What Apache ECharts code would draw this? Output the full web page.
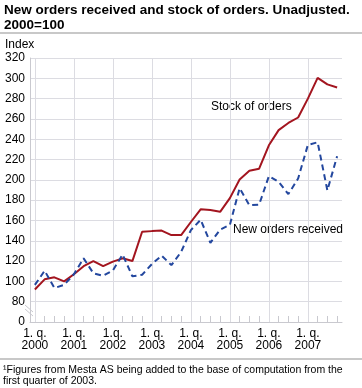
<!DOCTYPE html>
<html>
<head>
<meta charset="utf-8">
<script src="https://cdn.jsdelivr.net/npm/echarts@6/dist/echarts.min.js"></script>
<style>
html,body{margin:0;padding:0;background:#fff;}
#c{width:362px;height:388px;}
</style>
</head>
<body>
<div id="c"></div>
<script>
// Quarters 2000 Q1 .. 2007 Q4
var quarters = [];
var years = ["2000","2001","2002","2003","2004","2005","2006","2007"];
years.forEach(function(y){ for (var q=1;q<=4;q++) quarters.push(y+"Q"+q); });

var yearLabels = ["1. q.\n2000","1. q.\n2001","1.q.\n2002","1. q.\n2003","1. q.\n2004","1. q.\n2005","1. q.\n2006","1. q.\n2007"];

var stockOfOrders = [92, 102, 104, 100, 107, 115, 120, 115,
                     119.5, 122.7, 120, 148.9, 149.5, 150, 145.6, 145.6,
                     158.5, 171, 170.2, 168.5, 182, 200.4, 209, 211,
                     234, 249, 256, 261.4, 280, 300.5, 294, 291];

var newOrdersReceived = [96.5, 110.5, 93.5, 96.5, 107, 122.7, 108, 105.5,
                         110.8, 126.4, 105, 106.5, 117, 125.4, 116, 129,
                         150.5, 160.7, 138, 151, 155.7, 191.8, 175, 175.6,
                         203.6, 198, 186, 201.3, 234.4, 237, 189.6, 223.3];

var yTicks = {min: 60, max: 320, step: 20, zeroAt: 60};

// helper axis in half-quarter steps for grid lines, ticks and labels
var halfSteps = [];
for (var j = 0; j <= quarters.length * 2; j++) {
  var lab = '';
  if (j % 8 === 1) lab = yearLabels[(j - 1) / 8];
  halfSteps.push(lab);
}

var gridColor = '#dcdce2';
var chart = echarts.init(document.getElementById('c'), null, {renderer: 'canvas'});
var font = '"Liberation Sans", Arial, sans-serif';

chart.setOption({
  animation: false,
  textStyle: {fontFamily: font},
  grid: {left: 30, right: 20, top: 58, bottom: 66, containLabel: false},
  xAxis: [
    {type: 'category', data: quarters, boundaryGap: true, show: false},
    {type: 'category', data: halfSteps, boundaryGap: false, position: 'bottom',
     axisLine: {show: true, lineStyle: {color: '#c9c9cf', width: 1}},
     axisTick: {show: true, inside: true, length: 6,
                interval: function(i){ return i % 2 === 1 && i % 8 !== 1; },
                lineStyle: {color: '#c9c9cf'}},
     splitLine: {show: true, interval: function(i){ return i % 8 === 1; },
                 lineStyle: {color: gridColor, width: 1}},
     axisLabel: {interval: function(i){ return i % 8 === 1; }, color: '#000',
                 fontSize: 12, lineHeight: 12, margin: 6, fontFamily: font}}
  ],
  yAxis: {
    type: 'value', min: yTicks.min, max: yTicks.max, interval: yTicks.step,
    axisLine: {show: true, lineStyle: {color: '#c9c9cf'}},
    axisTick: {show: false},
    splitLine: {lineStyle: {color: gridColor, width: 1}},
    axisLabel: {color: '#000', fontSize: 12, margin: 5, fontFamily: font,
                formatter: function(v){ return v === yTicks.zeroAt ? '0' : String(v); }}
  },
  series: [
    {name: 'Stock of orders', type: 'line', xAxisIndex: 0, data: stockOfOrders,
     symbol: 'none', lineStyle: {color: '#a3151f', width: 2}, z: 3},
    {name: 'New orders received', type: 'line', xAxisIndex: 0, data: newOrdersReceived,
     symbol: 'none', lineStyle: {color: '#23479e', width: 2, type: [6, 4]}, z: 4}
  ],
  graphic: [
    {type: 'text', left: 4, top: 3, style: {text: 'New orders received and stock of orders. Unadjusted.\n2000=100',
      font: 'bold 13.5px ' + font, fill: '#000', lineHeight: 15}},
    {type: 'rect', shape: {x: 0, y: 32, width: 362, height: 2}, style: {fill: '#c8c8c8'}},
    {type: 'text', left: 5, top: 39, style: {text: 'Index', font: '12px ' + font, fill: '#000'}},
    {type: 'text', left: 211, top: 101, style: {text: 'Stock of orders', font: '12px ' + font, fill: '#000'}},
    {type: 'text', left: 233, top: 224, style: {text: 'New orders received', font: '12px ' + font, fill: '#000'}},
    {type: 'line', shape: {x1: 25, y1: 305, x2: 33, y2: 312}, style: {stroke: '#c9c9cf', lineWidth: 1}},
    {type: 'line', shape: {x1: 25, y1: 309, x2: 33, y2: 316}, style: {stroke: '#c9c9cf', lineWidth: 1}},
    {type: 'rect', shape: {x: 0, y: 358, width: 362, height: 2}, style: {fill: '#c8c8c8'}},
    {type: 'text', left: 3, top: 365, style: {text: '¹Figures from Mesta AS being added to the base of computation from the\nfirst quarter of 2003.',
      font: '10.5px ' + font, fill: '#000', lineHeight: 11}}
  ]
});
</script>
</body>
</html>
